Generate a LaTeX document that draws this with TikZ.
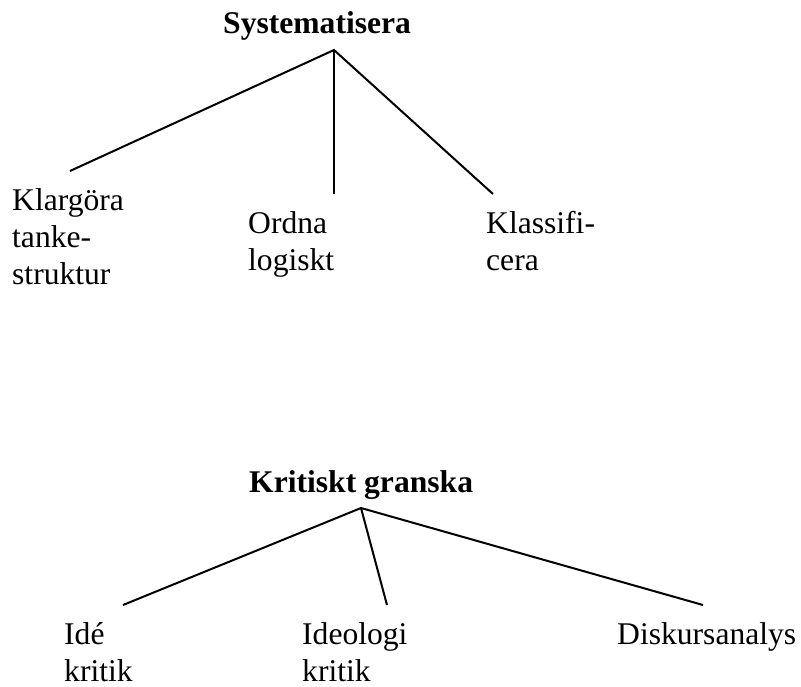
\documentclass[tikz,border=0pt]{standalone}
\usepackage{fontspec}
\setmainfont{Liberation Serif}
\begin{document}
\begin{tikzpicture}[x=1pt,y=-1pt,
  lbl/.style={inner sep=0pt, anchor=base west, align=left, font=\fontsize{31.6}{37}\selectfont},
  ttl/.style={inner sep=0pt, anchor=base west, font=\fontsize{31.6}{37}\selectfont\bfseries},
  conn/.style={line width=2pt, line cap=butt}]
\useasboundingbox (0,0) rectangle (801,686);
% top tree (label anchors are at the baseline of the last line)
\node[ttl] (sys) at (223,33) {Systematisera};
\coordinate (a1) at (334,50);
\coordinate (e1) at (70,171);
\coordinate (e2) at (334,194);
\coordinate (e3) at (493,194);
\node[lbl] (klar) at (12,284) {Klargöra\\tanke-\\struktur};
\node[lbl] (ordna) at (248,270) {Ordna\\logiskt};
\node[lbl] (klass) at (486,270) {Klassifi-\\cera};
\draw[conn] (e1) -- (a1) -- (e3);
\draw[conn] (a1) -- (e2);
% bottom tree
\node[ttl] (krit) at (249,492) {Kritiskt granska};
\coordinate (a2) at (361,508);
\coordinate (f1) at (123,605);
\coordinate (f2) at (387,605);
\coordinate (f3) at (703,605);
\node[lbl] (ide) at (64,681) {Idé\\kritik};
\node[lbl] (ideo) at (302,681) {Ideologi\\kritik};
\node[lbl] (disk) at (617,644) {Diskursanalys};
\draw[conn] (f1) -- (a2) -- (f3);
\draw[conn] (a2) -- (f2);
\end{tikzpicture}
\end{document}
